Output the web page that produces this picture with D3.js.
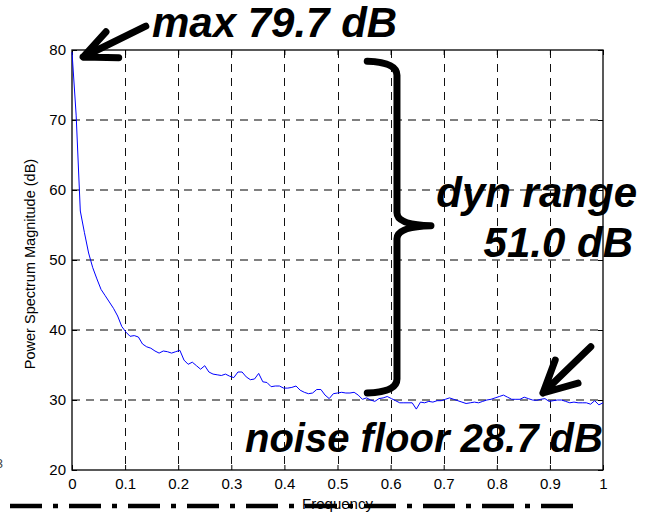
<html lang="en">
<head>
<meta charset="utf-8">
<title>Power Spectrum</title>
<style>
  body { margin: 0; background: white; font-family: Helvetica, Arial, "Liberation Sans", sans-serif; }
  svg { display: block; background: white; }
  .axis text { font-size: 15px; fill: #000; }
  .axis line { stroke: #000; }
  .grid line { stroke-dasharray: 8,6; fill: none; }
  .note { font-weight: bold; font-style: italic; fill: #000; }
</style>
</head>
<body>
<script src="https://cdnjs.cloudflare.com/ajax/libs/d3/7.8.5/d3.min.js"></script>
<script>
// power spectrum (dB), one value per bin, bins evenly spaced over 0..1
var spectrum = [
  79.7, 70.7, 57.0, 53.9, 51.0, 48.9, 47.3, 45.8, 44.9, 44.0,
  43.1, 42.0, 40.5, 39.7, 39.1, 39.2, 39.0, 38.0, 37.6, 37.4,
  37.0, 36.7, 37.0, 36.9, 36.7, 36.9, 37.1, 35.7, 35.1, 35.4,
  34.9, 34.4, 34.9, 34.0, 33.7, 33.6, 33.5, 33.7, 33.4, 33.2,
  34.0, 34.0, 33.3, 32.9, 33.0, 33.8, 32.6, 32.5, 31.9, 32.0,
  32.0, 31.7, 31.7, 31.8, 32.0, 31.4, 31.1, 30.9, 31.0, 31.5,
  31.5, 30.7, 30.2, 30.9, 31.0, 31.1, 31.0, 31.0, 31.1, 30.7,
  30.1, 30.3, 30.0, 29.8, 30.2, 30.3, 30.5, 30.2, 29.9, 29.6,
  29.6, 29.6, 29.6, 28.7, 29.7, 29.6, 29.8, 29.7, 29.9, 29.9,
  30.1, 30.3, 30.1, 29.9, 29.7, 29.5, 29.6, 29.7, 29.6, 29.8,
  30.0, 30.1, 30.3, 30.5, 30.7, 30.4, 30.1, 30.1, 30.1, 30.4,
  30.2, 30.0, 29.95, 30.1, 30.2, 29.8, 29.9, 30.0, 30.0, 29.8,
  29.6, 29.7, 29.6, 29.6, 29.6, 29.4, 29.9, 29.3, 29.6
];
var xTicks = [0, 0.1, 0.2, 0.3, 0.4, 0.5, 0.6, 0.7, 0.8, 0.9, 1];
var yTicks = [20, 30, 40, 50, 60, 70, 80];

var maxDb = 79.7;
var floorDb = 28.7;

var fullWidth = 656, fullHeight = 512;
var margin = {top: 50, right: 53, bottom: 42, left: 72};
var width = fullWidth - margin.left - margin.right;   // 531
var height = fullHeight - margin.top - margin.bottom; // 420

var svgRoot = d3.select("body").append("svg")
  .attr("width", fullWidth)
  .attr("height", fullHeight);

var svg = svgRoot.append("g")
  .attr("transform", "translate(" + margin.left + "," + margin.top + ")");

var xScale = d3.scaleLinear().domain([0, 1]).range([0, width]);
var yScale = d3.scaleLinear().domain([20, 80]).range([height, 0]);

var data = spectrum.map(function(v, i) {
  return {f: i / (spectrum.length - 1), db: v};
});

// grid
var grid = svg.append("g").attr("class", "grid");
grid.selectAll(".vg").data(xTicks.slice(1, -1)).enter().append("line")
  .attr("class", "vg")
  .attr("x1", function(d) { return Math.round(xScale(d)) + 0.5; })
  .attr("x2", function(d) { return Math.round(xScale(d)) + 0.5; })
  .attr("y1", 0).attr("y2", height)
  .attr("stroke", "#111").attr("stroke-width", 1);
grid.selectAll(".hg").data(yTicks.slice(1, -1)).enter().append("line")
  .attr("class", "hg")
  .attr("x1", 0).attr("x2", width)
  .attr("y1", function(d) { return yScale(d); })
  .attr("y2", function(d) { return yScale(d); })
  .attr("stroke", "#555").attr("stroke-width", 1.3);

// axes (ticks point inward like matlab)
var xAxis = d3.axisBottom(xScale).tickValues(xTicks).tickSize(-5).tickPadding(8)
  .tickFormat(function(d) { return d3.format("")(d); });
var yAxis = d3.axisLeft(yScale).tickValues(yTicks).tickSize(-5).tickPadding(6);

svg.append("g").attr("class", "x axis")
  .attr("transform", "translate(0," + height + ")")
  .call(xAxis);
svg.append("g").attr("class", "y axis").call(yAxis);
svg.append("g").attr("class", "axis")
  .call(d3.axisTop(xScale).tickValues(xTicks).tickSize(-5).tickFormat(""));
svg.append("g").attr("class", "axis")
  .attr("transform", "translate(" + width + ",0)")
  .call(d3.axisRight(yScale).tickValues(yTicks).tickSize(-5).tickFormat(""));
svg.selectAll(".axis .domain").remove();

svg.append("rect")
  .attr("x", 0).attr("y", 0)
  .attr("width", width).attr("height", height)
  .attr("fill", "none").attr("stroke", "#000").attr("stroke-width", 1.3);

// spectrum line
svg.append("path")
  .datum(data)
  .attr("fill", "none")
  .attr("stroke", "#0000ff")
  .attr("stroke-width", 1)
  .attr("d", d3.line()
    .x(function(d) { return xScale(d.f); })
    .y(function(d) { return yScale(d.db); }));

// dash-dot rule along the bottom (under the x label)
svgRoot.append("line")
  .attr("x1", 10).attr("x2", 573)
  .attr("y1", 506).attr("y2", 506)
  .attr("stroke", "#000").attr("stroke-width", 4.5)
  .attr("stroke-dasharray", "32,11,5,11");

// axis labels
svg.append("text")
  .attr("x", width / 2).attr("y", height + 39)
  .attr("text-anchor", "middle")
  .style("font-size", "15px")
  .text("Frequency");
svg.append("text")
  .attr("transform", "translate(-37," + (height / 2 + 4) + ") rotate(-90)")
  .attr("text-anchor", "middle")
  .style("font-size", "14.5px")
  .text("Power Spectrum Magnitude (dB)");

// clipped-off character at the left edge
svgRoot.append("text")
  .attr("x", 3).attr("y", 468)
  .attr("text-anchor", "end")
  .style("font-size", "13px")
  .attr("fill", "#444")
  .text("3");

// annotations, placed in data units
var ink = {fill: "none", stroke: "#000", "stroke-width": 7, "stroke-linecap": "round", "stroke-linejoin": "round"};
function P(f, db) { return xScale(f) + "," + yScale(db); }
function stroke(sel) { for (var k in ink) sel.attr(k, ink[k]); return sel; }

// arrow to max
stroke(svg.append("path").attr("d",
  "M" + P(0.139, 83.4) + "L" + P(0.021, 79.0) +
  "M" + P(0.064, 82.6) + "L" + P(0.021, 79.0) + "L" + P(0.088, 78.9)));
// arrow to noise floor
stroke(svg.append("path").attr("d",
  "M" + P(0.977, 37.6) + "L" + P(0.887, 31.0) +
  "M" + P(0.910, 35.7) + "L" + P(0.887, 31.0) + "L" + P(0.953, 32.4)));

// brace for dynamic range
var bx = xScale(0.612), bl = xScale(0.556), bt = xScale(0.676);
var yTop = yScale(78.4), yBot = yScale(31.0), yMid = yScale(54.9);
stroke(svg.append("path").attr("d",
  "M" + bl + "," + yTop +
  "Q" + bx + "," + (yTop + 1) + " " + bx + "," + (yTop + 14) +
  "L" + bx + "," + (yMid - 13) +
  "Q" + bx + "," + (yMid - 1) + " " + bt + "," + yMid +
  "Q" + bx + "," + (yMid + 1) + " " + bx + "," + (yMid + 13) +
  "L" + bx + "," + (yBot - 14) +
  "Q" + bx + "," + (yBot - 1) + " " + bl + "," + yBot));

svgRoot.append("text").attr("class", "note")
  .attr("x", 152).attr("y", 37)
  .style("font-size", "42px")
  .text("max " + maxDb.toFixed(1) + " dB");
svgRoot.append("text").attr("class", "note")
  .attr("x", 637).attr("y", 207)
  .attr("text-anchor", "end")
  .style("font-size", "42px")
  .text("dyn range");
svgRoot.append("text").attr("class", "note")
  .attr("x", 633).attr("y", 257)
  .attr("text-anchor", "end")
  .style("font-size", "42px")
  .text((maxDb - floorDb).toFixed(1) + " dB");
svgRoot.append("text").attr("class", "note")
  .attr("x", 245).attr("y", 452)
  .style("font-size", "40px")
  .text("noise floor " + floorDb.toFixed(1) + " dB");
</script>
</body>
</html>
